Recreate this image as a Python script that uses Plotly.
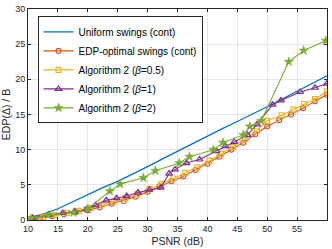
import plotly.graph_objects as go

# Uniform swings (cont)
uni_x = [10, 12.5, 15, 17.5, 20, 22.5, 25, 27.5, 30, 32.5, 35, 37.5, 40, 42.5, 45, 47.5, 50, 52.5, 55, 57.5, 60]
uni_y = [0.3, 0.85, 1.6, 2.6, 3.7, 4.6, 5.5, 6.5, 7.6, 8.7, 9.8, 10.9, 12.0, 13.0, 14.0, 15.0, 16.1, 17.2, 18.3, 19.4, 20.5]

# EDP-optimal swings (cont)
edp_x = [10, 12, 14, 16, 18, 20, 22, 24, 26, 28, 30, 32, 34, 36, 38, 40, 42, 44, 46, 48, 50, 52, 54, 56, 58, 60]
edp_y = [0.05, 0.3, 0.55, 0.8, 1.1, 1.4, 1.8, 2.3, 2.7, 3.3, 4.0, 4.8, 5.5, 6.2, 7.1, 8.0, 9.0, 10.0, 11.0, 12.2, 13.3, 14.2, 15.0, 15.9, 16.9, 17.8]

# Algorithm 2 (beta=0.5)
a05_x = [10.5, 12.5, 14.5, 16.5, 18.5, 20.5, 22.3, 24.3, 26.3, 28.3, 30.3, 32.3, 34.3, 36.3, 38.3, 40.3, 42.3, 44.3, 46.3, 48.3, 50.0, 52.4, 54.4, 56.2, 58.0, 60.0]
a05_y = [0.15, 0.4, 0.7, 1.0, 1.3, 1.7, 2.2, 2.6, 3.1, 3.7, 4.4, 5.1, 5.9, 6.7, 7.5, 8.4, 9.4, 10.4, 11.5, 12.7, 14.1, 14.9, 15.7, 16.5, 17.2, 18.3]

# Algorithm 2 (beta=1)
a1_x = [10.8, 13.5, 15.8, 17.8, 19.7, 21.3, 23.1, 24.8, 26.5, 28.4, 30.3, 32.2, 33.6, 34.6, 36.5, 38.7, 41.5, 43.0, 44.5, 46.7, 48.3, 50.9, 52.3, 55.5, 58.0, 60.0]
a1_y = [0.3, 0.7, 1.0, 1.2, 1.5, 2.1, 2.8, 3.1, 3.4, 3.9, 4.3, 4.6, 6.6, 7.2, 8.1, 8.6, 9.8, 10.5, 11.1, 12.1, 13.6, 16.4, 17.0, 18.2, 18.8, 19.4]

# Algorithm 2 (beta=2)
a2_x = [10.5, 13.4, 17.6, 20.0, 23.7, 25.4, 29.3, 31.3, 35.3, 37.0, 41.0, 42.6, 46.0, 47.1, 49.0, 53.6, 56.1, 59.8]
a2_y = [0.2, 0.7, 1.05, 1.6, 4.1, 5.1, 6.0, 7.0, 8.1, 9.0, 10.0, 11.0, 12.1, 13.3, 14.1, 22.5, 24.1, 25.5]

x_ticks = [10, 15, 20, 25, 30, 35, 40, 45, 50, 55, 60]
y_ticks = [0, 5, 10, 15, 20, 25, 30]

FONT = "Liberation Sans, Arial"

fig = go.Figure()
fig.add_trace(go.Scatter(x=uni_x, y=uni_y, mode="lines", name="Uniform swings (cont)",
                         line=dict(color="#0072BD", width=1.3)))
fig.add_trace(go.Scatter(x=edp_x, y=edp_y, mode="lines+markers", name="EDP-optimal swings (cont)",
                         line=dict(color="#D95319", width=1.1),
                         marker=dict(symbol="circle-open", size=5, line=dict(width=1.1))))
fig.add_trace(go.Scatter(x=a05_x, y=a05_y, mode="lines+markers", name="Algorithm 2 (<i>β</i>=0.5)",
                         line=dict(color="#EDB120", width=1.1),
                         marker=dict(symbol="square-open", size=5, line=dict(width=1.1))))
fig.add_trace(go.Scatter(x=a1_x, y=a1_y, mode="lines+markers", name="Algorithm 2 (<i>β</i>=1)",
                         line=dict(color="#7E2F8E", width=1.1),
                         marker=dict(symbol="triangle-up-open", size=6, line=dict(width=1.2))))
fig.add_trace(go.Scatter(x=a2_x, y=a2_y, mode="lines+markers", name="Algorithm 2 (<i>β</i>=2)",
                         line=dict(color="#77AC30", width=1.1),
                         marker=dict(symbol="star", size=7, line=dict(width=0.5, color="#77AC30"))))

axis_common = dict(showgrid=True, gridcolor="#E6E6E6", gridwidth=1, zeroline=False,
                   showline=True, linecolor="#262626", linewidth=1, mirror="ticks",
                   ticks="inside", ticklen=3, tickcolor="#262626",
                   tickfont=dict(family=FONT, size=9, color="#262626"))

fig.update_xaxes(range=[10, 60], tickvals=x_ticks,
                 title=dict(text="PSNR (dB)", font=dict(family=FONT, size=10.5, color="#262626"), standoff=4),
                 **axis_common)
fig.update_yaxes(range=[0, 30], tickvals=y_ticks,
                 title=dict(text="EDP(Δ) / B", font=dict(family=FONT, size=10.5, color="#262626"), standoff=3),
                 **axis_common)

fig.update_layout(
    width=332, height=249,
    margin=dict(l=28, r=4, t=5, b=28),
    plot_bgcolor="white", paper_bgcolor="white",
    legend=dict(x=0.032, y=0.965, xanchor="left", yanchor="top",
                bgcolor="white", bordercolor="#262626", borderwidth=1,
                font=dict(family=FONT, size=10, color="#000000"),
                itemwidth=30, tracegroupgap=0, traceorder="normal"),
    showlegend=True,
)

fig.write_html("out.html", config={"displayModeBar": False},
               post_script="document.body.style.margin='0px';document.body.style.overflow='hidden';")
